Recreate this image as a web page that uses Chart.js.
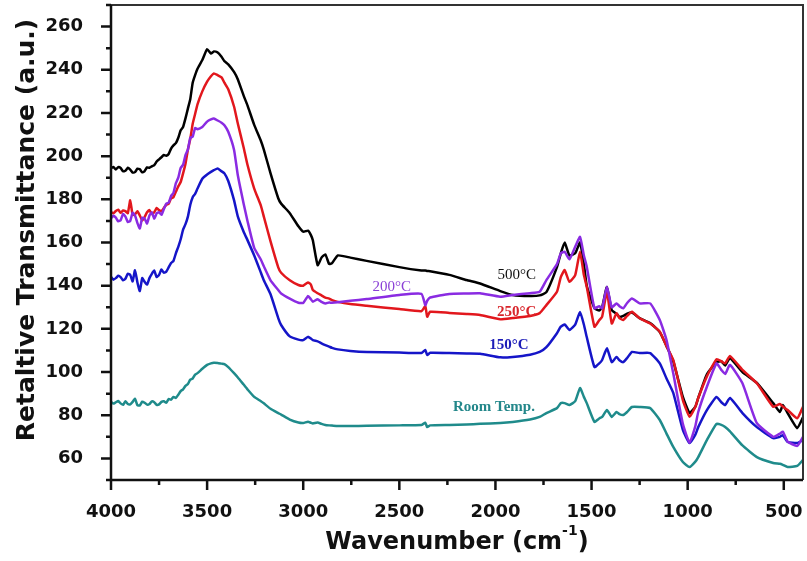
<!DOCTYPE html>
<html>
<head>
<meta charset="utf-8">
<script src="https://cdn.jsdelivr.net/npm/chart.js@4.4.1/dist/chart.umd.min.js"></script>
<style>
  html, body { margin: 0; padding: 0; background: #fff; }
</style>
</head>
<body>
<canvas id="ftir" width="807" height="561"></canvas>
<script>
// wavenumber grid (cm-1), shared by every spectrum; finer steps in the noisy O-H region
const wavenumbers = [
    4000, 3987.5, 3975, 3962.5, 3950, 3937.5, 3925, 3912.5, 3900, 3887.5,
    3875, 3862.5, 3850, 3837.5, 3825, 3812.5, 3800, 3787.5, 3775, 3762.5,
    3750, 3737.5, 3725, 3712.5, 3700, 3687.5, 3675, 3662.5, 3650, 3637.5,
    3625, 3612.5, 3600, 3587.5, 3575, 3562.5, 3550,
    3525,
    3500, 3480, 3465, 3445, 3425, 3410, 3390, 3360, 3340, 3310,
    3290, 3255, 3220, 3205, 3170, 3130, 3115, 3070, 3025, 3000,
    2975, 2960, 2950, 2925, 2905, 2885, 2865, 2850, 2820, 2755,
    2670, 2500, 2385, 2365, 2355, 2340, 2240, 2150, 2080, 1975,
    1910, 1820, 1770, 1735, 1680, 1660, 1640, 1615, 1585, 1560,
    1540, 1525, 1485, 1460, 1445, 1420, 1395, 1370, 1355, 1335,
    1315, 1290, 1250, 1195, 1145, 1110, 1075, 1025, 990, 960,
    945, 900, 850, 825, 805, 780, 715, 640, 555, 520,
    505, 480, 430, 400
];

const t500 = [
    194.3, 195.0, 193.8, 194.9, 194.5, 193.0, 193.2, 194.6, 193.8, 192.4,
    192.6, 194.2, 193.9, 192.5, 193.1, 194.8, 194.6, 195.3, 195.8, 197.5,
    198.5, 199.5, 200.5, 200.2, 201.0, 203.5, 205.0, 206.0, 208.5, 212.0,
    213.5, 217.5, 222.0, 226.5, 234.0, 237.5, 240.5,
    244.5,
    249.5, 247.5, 248.5, 248.0, 246.0, 244.0, 242.5, 239.0, 235.5, 228.0,
    223.5, 214.5, 207.0, 203.0, 192.0, 180.5, 178.0, 173.6, 167.5, 165.0,
    165.5, 163.4, 161.0, 149.5, 153.0, 154.5, 150.0, 150.5, 154.0, 153.0,
    151.5, 148.6, 147.0, 147.0, 146.8, 146.7, 145.0, 142.6, 141.0, 137.5,
    135.7, 135.2, 135.5, 137.0, 148.6, 155.0, 160.0, 154.0, 155.0, 160.0,
    150.0, 140.0, 129.6, 128.5, 130.0, 139.4, 128.7, 127.0, 125.5, 126.0,
    127.0, 127.5, 125.0, 122.7, 118.5, 112.0, 105.0, 88.5, 81.0, 84.0,
    88.0, 99.0, 104.6, 105.0, 103.0, 106.5, 100.0, 95.0, 85.6, 81.5,
    84.7, 81.0, 74.0, 79.0
];

const t250 = [
    174.2, 173.5, 174.6, 175.2, 173.8, 174.8, 174.5, 173.6, 179.5, 172.8,
    173.0, 174.5, 172.5, 170.2, 171.8, 174.0, 175.0, 173.2, 174.0, 176.0,
    175.0, 174.5, 176.0, 177.5, 178.0, 180.5, 181.0, 183.5, 186.0, 188.0,
    192.0, 196.5, 203.0, 208.0, 215.0, 219.5, 224.0,
    230.0,
    234.5, 237.0, 238.3, 237.5, 236.5, 234.0, 231.0, 223.0, 215.0, 204.0,
    196.0, 185.0, 177.0, 172.0, 160.5, 148.5, 146.0, 142.5, 140.3, 140.0,
    141.5, 140.5, 138.0, 136.5, 135.5, 134.5, 134.0, 133.3, 132.5, 131.5,
    130.7, 129.2, 128.2, 130.5, 125.6, 127.9, 127.4, 126.9, 126.4, 124.4,
    125.0, 126.0, 127.3, 131.0, 137.2, 144.0, 147.2, 141.8, 144.9, 155.7,
    145.0, 139.5, 121.0, 124.0, 125.6, 137.2, 122.5, 127.2, 125.0, 124.1,
    126.0, 127.9, 124.9, 122.5, 118.7, 112.0, 105.6, 87.0, 79.3, 83.9,
    88.0, 98.0, 105.9, 105.0, 104.0, 107.4, 101.0, 94.8, 83.9, 85.2,
    84.0, 82.4, 78.6, 83.9
];

const t200 = [
    171.2, 172.4, 171.5, 169.8, 170.3, 173.2, 172.0, 169.5, 170.0, 173.8,
    172.5, 169.0, 166.5, 171.5, 171.0, 168.8, 172.5, 174.0, 171.0, 173.5,
    174.0, 172.8, 175.5, 178.0, 178.5, 181.5, 183.0, 187.5, 190.0, 194.5,
    196.0, 200.5, 203.0, 208.5, 209.0, 213.0, 212.5,
    213.5,
    216.0, 217.0, 217.4, 216.5, 215.5, 214.3, 211.3, 203.0, 191.0, 178.0,
    170.0, 157.5, 152.0, 149.0, 142.5, 138.0, 136.4, 134.0, 132.1, 132.0,
    135.2, 133.7, 132.6, 133.7, 132.5, 131.8, 132.2, 132.1, 132.3, 133.0,
    133.8, 135.7, 136.2, 131.0, 133.0, 134.5, 136.2, 136.4, 136.5, 134.9,
    135.7, 136.5, 137.2, 142.6, 150.0, 155.0, 155.7, 152.2, 158.0, 162.6,
    154.0, 148.8, 129.5, 130.5, 129.5, 139.5, 130.0, 131.8, 130.5, 129.5,
    132.0, 134.1, 131.8, 131.8, 124.1, 114.8, 99.4, 76.0, 67.3, 75.0,
    81.5, 93.2, 104.0, 101.0, 99.1, 103.3, 94.8, 76.3, 70.0, 71.5,
    72.4, 67.8, 65.8, 70.0
];

const t150 = [
    144.1, 142.8, 143.5, 144.6, 144.0, 142.5, 143.2, 145.5, 145.0, 142.0,
    147.2, 141.5, 137.5, 143.5, 141.8, 140.5, 143.5, 145.5, 147.0, 144.0,
    145.0, 147.5, 146.0, 146.5, 148.5, 150.5, 151.5, 155.0, 158.0, 161.5,
    166.0, 168.5, 172.0, 177.5, 181.0, 182.5, 185.0,
    189.5,
    191.5, 192.7, 193.5, 194.3, 193.0, 192.0, 188.5, 179.6, 172.0, 165.0,
    161.1, 154.0, 146.0, 142.5, 136.0, 125.0, 121.8, 116.5, 115.0, 114.8,
    116.3, 115.5, 114.8, 114.2, 113.3, 112.5, 111.8, 111.2, 110.5, 109.8,
    109.3, 109.0, 108.8, 110.2, 107.9, 108.9, 108.8, 108.6, 108.5, 106.8,
    107.0, 108.0, 109.3, 111.5, 118.0, 121.0, 122.0, 119.5, 122.0, 127.8,
    122.0, 116.2, 102.3, 104.0, 105.6, 111.0, 104.6, 107.0, 105.5, 104.6,
    106.5, 109.3, 108.8, 108.8, 104.0, 97.0, 90.3, 73.2, 67.1, 71.0,
    74.5, 82.4, 88.5, 86.0, 84.7, 88.0, 81.0, 74.5, 69.4, 70.0,
    70.8, 67.6, 67.1, 68.5
];

const tRoom = [
    86.1, 85.4, 86.0, 86.6, 85.5, 84.8, 86.5, 85.2, 85.0, 86.2,
    87.6, 84.6, 84.5, 86.3, 85.8, 84.9, 85.2, 86.4, 86.0, 84.8,
    85.0, 86.2, 86.5, 85.8, 87.5, 87.2, 88.5, 88.0, 89.5, 91.2,
    92.0, 93.6, 94.5, 96.5, 97.0, 98.8, 99.5,
    101.5,
    103.3, 104.0, 104.3, 104.2, 103.9, 103.7, 102.3, 99.5, 97.5, 94.2,
    92.0, 88.5, 86.5, 85.5, 83.0, 81.0, 80.3, 78.0, 76.6, 76.4,
    77.0, 76.5, 76.2, 76.6, 76.0, 75.5, 75.3, 75.2, 75.0, 75.0,
    75.1, 75.3, 75.5, 76.5, 74.5, 75.3, 75.5, 75.7, 76.0, 76.4,
    76.9, 78.0, 79.2, 81.0, 83.3, 85.6, 85.6, 84.7, 86.5, 92.6,
    88.5, 85.6, 76.9, 78.5, 79.2, 82.4, 79.2, 81.5, 80.5, 80.1,
    81.5, 83.8, 83.8, 83.3, 77.8, 71.5, 65.3, 58.3, 56.0, 58.5,
    60.6, 68.5, 76.0, 75.5, 74.5, 72.5, 66.0, 60.6, 57.9, 57.5,
    57.0, 56.0, 56.5, 59.3
];

const xTicks = [4000, 3500, 3000, 2500, 2000, 1500, 1000, 500];
const yTicks = [60, 80, 100, 120, 140, 160, 180, 200, 220, 240, 260];

// curve labels: text, wavenumber, value, colour, bold
const curveLabels = [
    ['500\u00B0C', 1889, 144.9, '#111111', false],
    ['200\u00B0C', 2539, 139.4, '#8a3fd6', false],
    ['250\u00B0C', 1889, 127.8, '#d8262c', true],
    ['150\u00B0C', 1930, 112.5, '#1c1cb8', true],
    ['Room Temp.', 2008, 83.8, '#23878a', true]
];

function series(values) {
    return wavenumbers.map((w, i) => ({ x: w, y: values[i] }));
}

const spectrum = (label, values, color) => ({
    label: label,
    data: series(values),
    borderColor: color,
    backgroundColor: color,
    borderWidth: 2.5,
    pointRadius: 0,
    tension: 0.15,
    fill: false
});

// box, outward tick marks, axis titles and curve labels
const framePlugin = {
    id: 'frame',
    afterDatasetsDraw(chart) {
        const { ctx, scales: { x, y } } = chart;
        ctx.save();
        curveLabels.forEach(([text, w, v, color, bold]) => {
            ctx.font = (bold ? 'bold ' : '') + '15px "Liberation Serif"';
            ctx.fillStyle = color;
            ctx.textAlign = 'center';
            ctx.textBaseline = 'middle';
            ctx.fillText(text, x.getPixelForValue(w), y.getPixelForValue(v));
        });
        ctx.restore();
    },
    afterDraw(chart) {
        const { ctx, chartArea: a, scales: { x, y } } = chart;
        ctx.save();
        ctx.strokeStyle = '#333';
        ctx.lineWidth = 2;
        ctx.beginPath();
        ctx.moveTo(a.left, a.top);
        ctx.lineTo(a.right, a.top);
        ctx.lineTo(a.right, a.bottom);
        ctx.stroke();

        ctx.strokeStyle = '#111';
        ctx.lineWidth = 2.5;
        ctx.beginPath();
        ctx.moveTo(a.left, a.top);
        ctx.lineTo(a.left, a.bottom);
        ctx.lineTo(a.right, a.bottom);
        for (let v = 500; v <= 4000; v += 250) {
            const px = x.getPixelForValue(v);
            ctx.moveTo(px, a.bottom);
            ctx.lineTo(px, a.bottom + (v % 500 === 0 ? 10 : 5));
        }
        for (let v = 50; v <= 270; v += 10) {
            const py = y.getPixelForValue(v);
            ctx.moveTo(a.left, py);
            ctx.lineTo(a.left - (v % 20 === 0 ? 10 : 5), py);
        }
        ctx.stroke();

        ctx.fillStyle = '#111';
        ctx.textBaseline = 'alphabetic';

        // x title with superscript
        const base = 'Wavenumber (cm';
        ctx.font = 'bold 24px "DejaVu Sans"';
        const w1 = ctx.measureText(base).width;
        const w3 = ctx.measureText(')').width;
        ctx.font = 'bold 14px "DejaVu Sans"';
        const w2 = ctx.measureText('-1').width;
        const tx = 457 - (w1 + w2 + w3) / 2;
        ctx.textAlign = 'left';
        ctx.font = 'bold 24px "DejaVu Sans"';
        ctx.fillText(base, tx, 549);
        ctx.font = 'bold 14px "DejaVu Sans"';
        ctx.fillText('-1', tx + w1, 535);
        ctx.font = 'bold 24px "DejaVu Sans"';
        ctx.fillText(')', tx + w1 + w2, 549);

        // y title
        ctx.translate(34, 230);
        ctx.rotate(-Math.PI / 2);
        ctx.textAlign = 'center';
        ctx.font = 'bold 25px "DejaVu Sans"';
        ctx.fillText('Retaltive Transmittance (a.u.)', 0, 0);
        ctx.restore();
    }
};

new Chart(document.getElementById('ftir'), {
    type: 'line',
    data: {
        datasets: [
            spectrum('200\u00B0C', t200, '#8a2be2'),
            spectrum('250\u00B0C', t250, '#e2171d'),
            spectrum('500\u00B0C', t500, '#000000'),
            spectrum('150\u00B0C', t150, '#1515c8'),
            spectrum('Room Temp.', tRoom, '#1f8b8b')
        ]
    },
    options: {
        responsive: false,
        animation: false,
        layout: { padding: { top: 5, right: 4, left: 0, bottom: 0 } },
        plugins: {
            legend: { display: false },
            tooltip: { enabled: false }
        },
        scales: {
            x: {
                type: 'linear',
                reverse: true,
                min: 400,
                max: 4000,
                grid: { display: false },
                border: { display: false },
                afterFit: s => {
                    s.height = 81;
                    s.paddingLeft = 0;
                    s.paddingRight = 0;
                },
                afterBuildTicks: s => { s.ticks = xTicks.map(v => ({ value: v })); },
                ticks: {
                    padding: 14,
                    maxRotation: 0,
                    color: '#111',
                    callback: v => String(v),
                    font: { family: 'DejaVu Sans', size: 18, weight: 'bold' }
                }
            },
            y: {
                min: 50,
                max: 270,
                grid: { display: false },
                border: { display: false },
                afterFit: s => {
                    s.width = 111;
                    s.paddingTop = 0;
                    s.paddingBottom = 0;
                },
                afterBuildTicks: s => { s.ticks = yTicks.map(v => ({ value: v })); },
                ticks: {
                    padding: 20,
                    color: '#111',
                    callback: v => String(v),
                    font: { family: 'DejaVu Sans', size: 18, weight: 'bold' }
                }
            }
        }
    },
    plugins: [framePlugin]
});
</script>
</body>
</html>
